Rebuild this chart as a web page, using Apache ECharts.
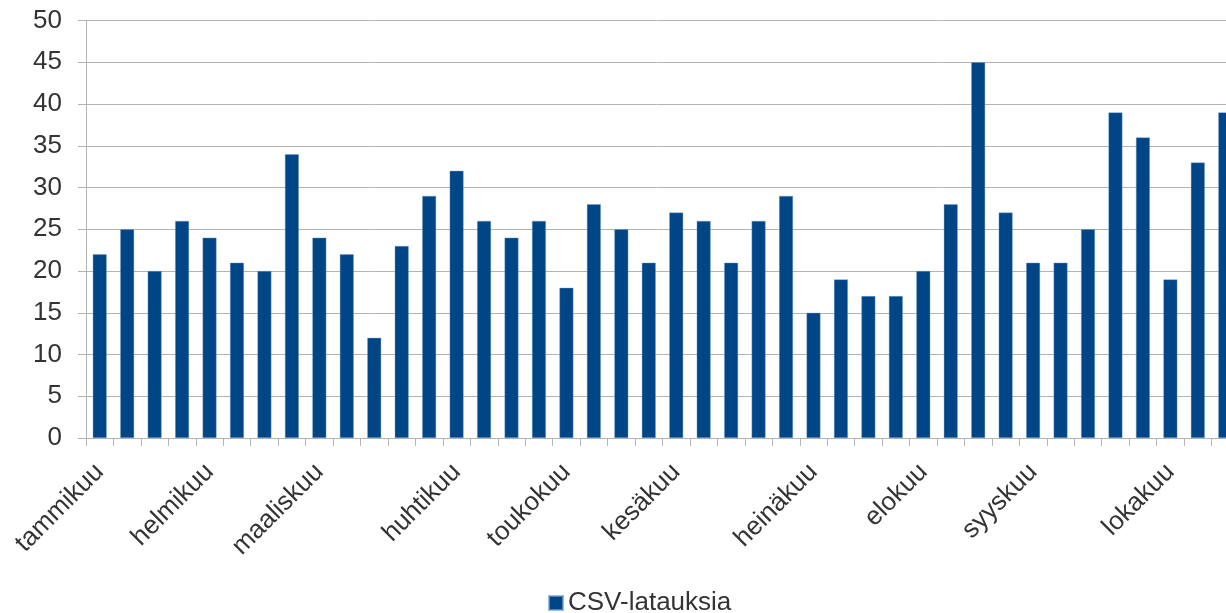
<!DOCTYPE html>
<html>
<head>
<meta charset="utf-8">
<script src="https://cdn.jsdelivr.net/npm/echarts@6/dist/echarts.min.js"></script>
<style>
html,body{margin:0;padding:0;background:#fff;}
#chart{width:1226px;height:613px;}
</style>
</head>
<body>
<div id="chart"></div>
<script>
// Month labels shown at the first week of each month (empty = no label)
const monthLabels = ['tammikuu','','','','helmikuu','','','','maaliskuu','','','','',
  'huhtikuu','','','','toukokuu','','','','kesäkuu','','','','',
  'heinäkuu','','','','elokuu','','','','syyskuu','','','','',
  'lokakuu','',''];
const seriesName = 'CSV-latauksia';
const values = [22,25,20,26,24,21,20,34,24,22,12,23,29,32,26,24,26,18,28,25,21,27,26,21,26,29,15,19,17,17,20,28,45,27,21,21,25,39,36,19,33,39];
const yTicks = {min:0, max:50, interval:5};

const categories = monthLabels.map((m,i)=>String(i));
const chart = echarts.init(document.getElementById('chart'));
const font = 'Liberation Sans, Arial, sans-serif';
chart.setOption({
  animation:false,
  backgroundColor:'#fff',
  grid:{left:86, top:20.5, height:417.5, width:1153, containLabel:false, outerBoundsMode:'none'},
  legend:{
    left:543, top:585, itemWidth:14, itemHeight:14, icon:'rect',
    textStyle:{fontFamily:font, fontSize:26, color:'#333'},
    data:[seriesName]
  },
  xAxis:{
    type:'category', data:categories, boundaryGap:true,
    axisLine:{lineStyle:{color:'#b3b3b3', width:1}},
    axisTick:{show:true, alignWithLabel:false, interval:0, length:8, lineStyle:{color:'#b3b3b3'}},
    axisLabel:{
      interval:0, rotate:45, margin:30, fontFamily:font, fontSize:26, color:'#333',
      formatter:(v)=>monthLabels[+v]
    },
    splitLine:{show:false}
  },
  yAxis:{
    type:'value', min:yTicks.min, max:yTicks.max, interval:yTicks.interval,
    axisLine:{show:true, lineStyle:{color:'#b3b3b3'}},
    axisTick:{show:true, length:8, lineStyle:{color:'#b3b3b3'}},
    axisLabel:{margin:24, fontFamily:font, fontSize:26, color:'#333'},
    splitLine:{show:true, lineStyle:{color:'#b3b3b3', width:1}}
  },
  series:[{
    name:seriesName, type:'bar', data:values, barWidth:14,
    itemStyle:{color:'#004586', borderColor:'rgba(120,160,205,0.7)', borderWidth:0.6}
  }]
});
</script>
</body>
</html>
